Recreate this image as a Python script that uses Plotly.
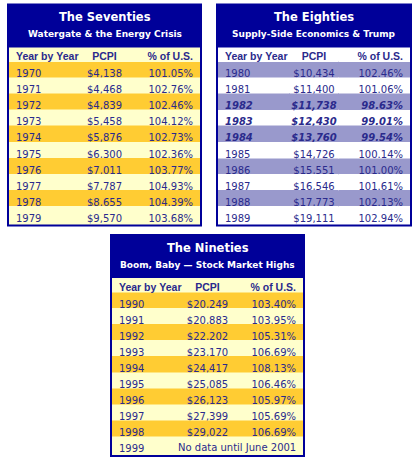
import plotly.graph_objects as go

W, H = 417, 467

# ---------------- data ----------------
years_70s = [1970, 1971, 1972, 1973, 1974, 1975, 1976, 1977, 1978, 1979]
pcpi_70s = [4138, 4468, 4839, 5458, 5876, 6300, 7011, 7787, 8655, 9570]
pct_70s = [101.05, 102.76, 102.46, 104.12, 102.73, 102.36, 103.77, 104.93, 104.39, 103.68]

years_80s = [1980, 1981, 1982, 1983, 1984, 1985, 1986, 1987, 1988, 1989]
pcpi_80s = [10434, 11400, 11738, 12430, 13760, 14726, 15551, 16546, 17773, 19111]
pct_80s = [102.46, 101.06, 98.63, 99.01, 99.54, 100.14, 101.00, 101.61, 102.13, 102.94]

years_90s = [1990, 1991, 1992, 1993, 1994, 1995, 1996, 1997, 1998, 1999]
pcpi_90s = [20249, 20883, 22202, 23170, 24417, 25085, 26123, 27399, 29022, None]
pct_90s = [103.40, 103.95, 105.31, 106.69, 108.13, 106.46, 105.97, 105.69, 106.69, None]
note_90s = "No data until June 2001"

col_headers = ["Year by Year", "PCPI", "% of U.S."]

titles = ["The Seventies", "The Eighties", "The Nineties"]
subtitles = ["Watergate &amp; the Energy Crisis",
             "Supply-Side Economics &amp; Trump",
             "Boom, Baby \u2014 Stock Market Highs"]

# ---------------- styles ----------------
NAVY = "#000099"
TEXT = "#2a2a8c"
GOLD = "#ffcc33"
CREAM = "#ffffcc"
LAV = "#9999cc"
WHITE = "#ffffff"

BAND_H = 43
HEAD_H = 17
ROW_H = 16.1
LIFT = 3  # table text sits low in its cells; lift table so text centres on rows
NBSP = "\u00a0"
ALIGN = ["left", "center", "right"]
COLW = [72, 49, 72]

fig = go.Figure()


def fx(px):
    return px / W


def fy(py):
    return 1 - py / H


def add_table(x0, x1, y0, title, subtitle, years, pcpi, pct,
              fill_a, fill_b, head_fill, note=None):
    n = len(years)
    fills = [fill_a if i % 2 == 0 else fill_b for i in range(n)]
    c_year = [str(y) for y in years]
    c_pcpi = ["" if v is None else f"${v:,}" for v in pcpi]
    c_pct = ["" if p is None else f"{p:.2f}%" for p in pct]
    below = [p is not None and p < 100 for p in pct]

    t_top = y0 + BAND_H
    t_bot = t_top + HEAD_H + n * ROW_H

    # strip under the lifted table, coloured like the last row
    fig.add_shape(type="rect", xref="paper", yref="paper",
                  x0=fx(x0), x1=fx(x1), y0=fy(t_bot), y1=fy(t_bot - LIFT - 1),
                  fillcolor=fills[-1], line=dict(width=0), layer="below")

    # split rows into runs of equal emphasis (below-U.S. rows are bold italic)
    runs = []
    start = 0
    for i in range(1, n + 1):
        if i == n or below[i] != below[start]:
            runs.append((start, i))
            start = i

    for k, (a, b) in enumerate(runs):
        emph = below[a]
        cell_font = dict(family="DejaVu Sans, sans-serif", size=10, color=TEXT,
                         weight="bold" if emph else "normal",
                         style="italic" if emph else "normal")
        if k == 0:
            seg_top = t_top
            header = dict(
                values=[h.replace(" ", NBSP) for h in col_headers],
                align=ALIGN, fill_color=head_fill,
                line=dict(color=head_fill, width=0.5),
                font=dict(family="Liberation Sans, Arial, sans-serif", size=10.5,
                          color=TEXT, weight="bold"),
                height=HEAD_H,
            )
            ca = a
        else:
            # first row of the run acts as the segment's header row
            seg_top = t_top + HEAD_H + a * ROW_H
            header = dict(
                values=[c_year[a], c_pcpi[a], c_pct[a]],
                align=ALIGN, fill_color=fills[a],
                line=dict(color=fills[a], width=0.5),
                font=cell_font, height=ROW_H,
            )
            ca = a + 1
        seg_bot = t_top + HEAD_H + b * ROW_H
        last = k == len(runs) - 1
        fl = fills[ca:b]
        fig.add_trace(go.Table(
            domain=dict(x=[fx(x0), fx(x1)],
                        y=[fy(seg_bot - LIFT + (5 if last else 1)), fy(seg_top - LIFT)]),
            columnwidth=COLW,
            header=header,
            cells=dict(
                values=[c_year[ca:b], c_pcpi[ca:b], c_pct[ca:b]],
                align=ALIGN,
                fill_color=[fl, fl, fl],
                line=dict(color=[fl, fl, fl], width=0.5),
                font=cell_font,
                height=ROW_H,
            ),
        ))
    # title band
    fig.add_shape(type="rect", xref="paper", yref="paper",
                  x0=fx(x0), x1=fx(x1), y0=fy(t_top), y1=fy(y0),
                  fillcolor=NAVY, line=dict(width=0), layer="above")
    # border
    fig.add_shape(type="rect", xref="paper", yref="paper",
                  x0=fx(x0), x1=fx(x1), y0=fy(t_bot), y1=fy(y0),
                  fillcolor="rgba(0,0,0,0)", line=dict(color=NAVY, width=2),
                  layer="above")
    xc = fx((x0 + x1) / 2)
    fig.add_annotation(x=xc, y=fy(y0 + 12.5), xref="paper", yref="paper",
                       text=f"<b>{title}</b>", showarrow=False,
                       xanchor="center", yanchor="middle",
                       font=dict(family="DejaVu Sans, sans-serif", size=11.5, color="white"))
    fig.add_annotation(x=xc, y=fy(y0 + 29.5), xref="paper", yref="paper",
                       text=f"<b>{subtitle}</b>", showarrow=False,
                       xanchor="center", yanchor="middle",
                       font=dict(family="DejaVu Sans, sans-serif", size=9, color="white"))
    if note is not None:
        idx = n - 1
        fig.add_annotation(x=fx(x1 - 6), y=fy(t_top + HEAD_H + (idx + 0.5) * ROW_H),
                           xref="paper", yref="paper", text=note, showarrow=False,
                           xanchor="right", yanchor="middle",
                           font=dict(family="DejaVu Sans, sans-serif", size=10, color=TEXT))


add_table(8, 201, 4.5, titles[0], subtitles[0], years_70s, pcpi_70s, pct_70s,
          GOLD, CREAM, CREAM)
add_table(217, 411, 4.5, titles[1], subtitles[1], years_80s, pcpi_80s, pct_80s,
          LAV, WHITE, WHITE)
add_table(111, 304, 235, titles[2], subtitles[2], years_90s, pcpi_90s, pct_90s,
          GOLD, CREAM, CREAM, note=note_90s)

fig.update_layout(
    width=W, height=H,
    margin=dict(l=0, r=0, t=0, b=0),
    paper_bgcolor="white",
    plot_bgcolor="white",
    showlegend=False,
)

fig.write_html("out.html",
               config={"displayModeBar": False},
               post_script="document.body.style.margin='0';"
                           "document.body.style.overflow='hidden';")
